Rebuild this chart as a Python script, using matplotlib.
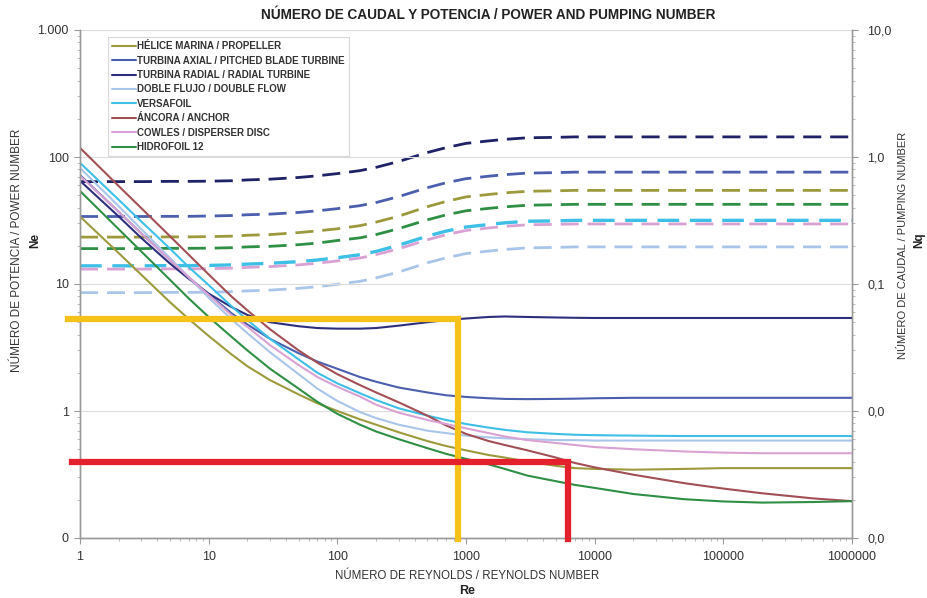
import matplotlib
matplotlib.use("Agg")
import matplotlib.pyplot as plt
from matplotlib.ticker import FixedLocator, FixedFormatter, NullFormatter, LogLocator

# ---------------- data ----------------
re = [1, 2, 3, 5, 7, 10, 15, 20, 30, 50, 70, 100, 150, 200, 300, 500, 700, 1000, 1500, 2000,
      3000, 5000, 7000, 1e4, 2e4, 5e4, 1e5, 2e5, 5e5, 1e6]

# Power number Np (solid lines, left axis)
np_helice = [34, 17.5, 11.8, 7.2, 5.3, 3.9, 2.8, 2.25, 1.75, 1.35, 1.15, 1.0, 0.86, 0.78, 0.68,
             0.58, 0.53, 0.49, 0.45, 0.43, 0.40, 0.37, 0.355, 0.35, 0.345, 0.35, 0.355, 0.355, 0.355, 0.355]
np_axial = [72, 37, 25, 15.5, 11.3, 8.3, 5.9, 4.8, 3.7, 2.85, 2.45, 2.15, 1.85, 1.7, 1.53,
            1.4, 1.33, 1.29, 1.26, 1.245, 1.24, 1.245, 1.25, 1.26, 1.27, 1.27, 1.27, 1.27, 1.27, 1.27]
np_radial = [65, 34, 23, 14.5, 11, 8.4, 6.6, 5.7, 5.0, 4.65, 4.5, 4.45, 4.45, 4.5, 4.7,
             5.0, 5.2, 5.35, 5.5, 5.55, 5.5, 5.45, 5.42, 5.4, 5.4, 5.4, 5.4, 5.4, 5.4, 5.4]
np_doble = [82, 41, 27, 16, 11.3, 7.8, 5.3, 4.1, 2.9, 1.95, 1.5, 1.2, 0.98, 0.88, 0.78,
            0.7, 0.67, 0.64, 0.62, 0.61, 0.6, 0.59, 0.59, 0.585, 0.585, 0.585, 0.585, 0.585, 0.585, 0.585]
np_versa = [90, 46, 31, 19, 13.6, 9.8, 6.7, 5.2, 3.7, 2.55, 2.0, 1.65, 1.38, 1.22, 1.05,
            0.92, 0.85, 0.79, 0.74, 0.71, 0.68, 0.66, 0.65, 0.645, 0.64, 0.635, 0.635, 0.635, 0.635, 0.635]
np_ancora = [118, 59, 39.5, 23.8, 17, 11.9, 8.0, 6.2, 4.4, 3.0, 2.4, 1.95, 1.6, 1.4, 1.17,
             0.92, 0.77, 0.66, 0.58, 0.54, 0.49, 0.43, 0.39, 0.36, 0.315, 0.27, 0.245, 0.225, 0.205, 0.195]
np_cowles = [71, 37, 25, 15.5, 11.3, 8.2, 5.7, 4.6, 3.3, 2.3, 1.85, 1.55, 1.3, 1.12, 0.97,
             0.85, 0.79, 0.73, 0.67, 0.63, 0.59, 0.56, 0.54, 0.52, 0.5, 0.48, 0.47, 0.465, 0.465, 0.465]
np_hidro = [54, 27, 18, 10.8, 7.7, 5.5, 3.85, 3.0, 2.15, 1.5, 1.18, 0.95, 0.78, 0.69, 0.6,
            0.51, 0.46, 0.42, 0.38, 0.35, 0.31, 0.28, 0.262, 0.248, 0.222, 0.202, 0.194, 0.19, 0.192, 0.195]

# Pumping number Nq (dashed lines, right axis)
nq_radial = [0.64, 0.64, 0.64, 0.643, 0.643, 0.645, 0.650, 0.660, 0.669, 0.690, 0.711, 0.740, 0.781, 0.829, 0.922,
             1.084, 1.185, 1.28, 1.339, 1.377, 1.417, 1.428, 1.44, 1.44, 1.44, 1.44, 1.44, 1.44, 1.44, 1.44]
nq_axial = [0.34, 0.34, 0.34, 0.341, 0.341, 0.343, 0.346, 0.351, 0.355, 0.366, 0.377, 0.392, 0.414, 0.438, 0.488,
            0.573, 0.627, 0.675, 0.706, 0.726, 0.747, 0.753, 0.76, 0.76, 0.76, 0.76, 0.76, 0.76, 0.76, 0.76]
nq_helice = [0.234, 0.234, 0.234, 0.235, 0.235, 0.236, 0.238, 0.242, 0.245, 0.254, 0.262, 0.272, 0.288, 0.307, 0.342,
             0.406, 0.447, 0.485, 0.507, 0.522, 0.537, 0.542, 0.546, 0.546, 0.546, 0.546, 0.546, 0.546, 0.546, 0.546]
nq_hidro = [0.19, 0.19, 0.19, 0.191, 0.191, 0.1915, 0.193, 0.196, 0.198, 0.204, 0.21, 0.22, 0.231, 0.245, 0.273,
            0.32, 0.35, 0.377, 0.394, 0.405, 0.417, 0.421, 0.424, 0.424, 0.424, 0.424, 0.424, 0.424, 0.424, 0.424]
nq_versa = [0.139, 0.139, 0.139, 0.1396, 0.1396, 0.14, 0.1414, 0.1435, 0.1455, 0.150, 0.1545, 0.161, 0.170, 0.1805, 0.202,
            0.238, 0.261, 0.281, 0.294, 0.303, 0.312, 0.314, 0.317, 0.317, 0.317, 0.317, 0.317, 0.317, 0.317, 0.317]
nq_cowles = [0.131, 0.131, 0.131, 0.1315, 0.1315, 0.1321, 0.1332, 0.1352, 0.1371, 0.1414, 0.1458, 0.1518, 0.1602, 0.1703, 0.1893,
             0.2229, 0.2443, 0.264, 0.2762, 0.2842, 0.2925, 0.2949, 0.297, 0.297, 0.297, 0.297, 0.297, 0.297, 0.297, 0.297]
nq_doble = [0.0855, 0.0855, 0.0855, 0.0859, 0.0859, 0.0862, 0.0869, 0.0883, 0.0895, 0.0924, 0.0953, 0.0994, 0.105, 0.1116, 0.1242,
            0.1468, 0.1607, 0.1736, 0.1817, 0.187, 0.1925, 0.1941, 0.196, 0.196, 0.196, 0.196, 0.196, 0.196, 0.196, 0.196]

labels = ["HÉLICE MARINA / PROPELLER",
          "TURBINA AXIAL / PITCHED BLADE TURBINE",
          "TURBINA RADIAL / RADIAL TURBINE",
          "DOBLE FLUJO / DOUBLE FLOW",
          "VERSAFOIL",
          "ÁNCORA / ANCHOR",
          "COWLES / DISPERSER DISC",
          "HIDROFOIL 12"]

# guide lines (operating points)
guide_re = [865, 6200]
guide_np = [5.3, 0.40]

x_ticks = [1, 10, 100, 1000, 10000, 100000, 1000000]
x_labels = ["1", "10", "100", "1000", "10000", "100000", "1000000"]
yl_ticks = [0.1, 1, 10, 100, 1000]
yl_labels = ["0", "1", "10", "100", "1.000"]
yr_ticks = [0.001, 0.01, 0.1, 1, 10]
yr_labels = ["0,0", "0,0", "0,1", "1,0", "10,0"]

# ---------------- style ----------------
c_helice = "#9c9a3c"
c_axial = "#4b5fae"
c_radial = "#2e2f7c"
c_doble = "#a9c6ea"
c_versa = "#3dbfe6"
c_ancora = "#a24f55"
c_cowles = "#d9a2d3"
c_hidro = "#2f8f45"
c_radial_d = "#1f2266"

narrow = ["Liberation Sans Narrow", "Liberation Sans", "DejaVu Sans"]
sans = ["Liberation Sans", "DejaVu Sans"]
plt.rcParams["font.family"] = sans

fig = plt.figure(figsize=(9.28, 5.98), dpi=100)
ax1 = fig.add_axes([80 / 928, 1 - 538 / 598, (852 - 80) / 928, (538 - 30) / 598])
ax2 = ax1.twinx()
ax1.set_zorder(ax2.get_zorder() + 1)
ax1.patch.set_visible(False)

for a in (ax1, ax2):
    a.set_xscale("log")
    a.set_yscale("log")
    a.set_xlim(1, 1e6)
ax1.set_ylim(0.1, 1000)
ax2.set_ylim(0.001, 10)

# dashed pumping numbers
dash = (0, (6.5, 3.2))
dlw = 2.0
ax2.plot(re, nq_radial, color=c_radial_d, lw=dlw, ls=dash)
ax2.plot(re, nq_axial, color=c_axial, lw=dlw, ls=dash)
ax2.plot(re, nq_helice, color=c_helice, lw=dlw, ls=dash)
ax2.plot(re, nq_hidro, color=c_hidro, lw=dlw, ls=dash)
ax2.plot(re, nq_versa, color=c_versa, lw=dlw + 0.4, ls=dash)
ax2.plot(re, nq_cowles, color=c_cowles, lw=dlw, ls=dash)
ax2.plot(re, nq_doble, color=c_doble, lw=dlw, ls=dash)

# solid power numbers
slw = 1.5
series = [np_helice, np_axial, np_radial, np_doble, np_versa, np_ancora, np_cowles, np_hidro]
cols = [c_helice, c_axial, c_radial, c_doble, c_versa, c_ancora, c_cowles, c_hidro]
for s, c, lab in zip(series, cols, labels):
    ax1.plot(re, s, color=c, lw=slw, label=lab, solid_capstyle="round", solid_joinstyle="round")

# guide lines
ax1.plot([0.81, guide_re[0], guide_re[0]], [guide_np[0], guide_np[0], 0.098],
         color="#f6c21a", lw=4.5, clip_on=False, zorder=10, solid_joinstyle="miter")
ax1.plot([0.86, guide_re[1], guide_re[1]], [guide_np[1], guide_np[1], 0.098],
         color="#e3202b", lw=4.5, clip_on=False, zorder=10, solid_joinstyle="miter")

# grid & spines
ax1.yaxis.grid(True, which="major", color="#dcdcdc", lw=0.8)
ax1.set_axisbelow(True)
for a in (ax1, ax2):
    for sp in a.spines.values():
        sp.set_color("#9a9a9a")
        sp.set_linewidth(1.0)
    a.spines["top"].set_visible(False)

tick_col = "#333333"
ax1.xaxis.set_major_locator(FixedLocator(x_ticks))
ax1.xaxis.set_major_formatter(FixedFormatter(x_labels))
ax1.xaxis.set_minor_locator(LogLocator(base=10, subs=range(2, 10), numticks=20))
ax1.xaxis.set_minor_formatter(NullFormatter())
ax1.yaxis.set_major_locator(FixedLocator(yl_ticks))
ax1.yaxis.set_major_formatter(FixedFormatter(yl_labels))
ax1.yaxis.set_minor_locator(LogLocator(base=10, subs=range(2, 10), numticks=20))
ax1.yaxis.set_minor_formatter(NullFormatter())
ax2.yaxis.set_major_locator(FixedLocator(yr_ticks))
ax2.yaxis.set_major_formatter(FixedFormatter(yr_labels))
ax2.yaxis.set_minor_locator(LogLocator(base=10, subs=range(2, 10), numticks=20))
ax2.yaxis.set_minor_formatter(NullFormatter())
ax2.xaxis.set_visible(False)

ax1.tick_params(axis="both", which="major", labelsize=9, colors="#9a9a9a",
                labelcolor=tick_col, length=4, width=0.8, direction="out")
ax1.tick_params(axis="both", which="minor", length=2.5, width=0.6, colors="#b0b0b0", direction="out")
ax1.tick_params(axis="x", which="major", pad=5)
ax1.tick_params(axis="y", which="major", pad=4)
ax2.tick_params(axis="y", which="major", labelsize=9, colors="#9a9a9a",
                labelcolor=tick_col, length=4, width=0.8, direction="out", pad=7)
ax2.tick_params(axis="y", which="minor", length=2.5, width=0.6, colors="#b0b0b0", direction="out")
for lab in ax1.get_xticklabels() + ax1.get_yticklabels() + ax2.get_yticklabels():
    lab.set_family(narrow)

# texts
fig.text(488 / 928, 1 - 15 / 598, "NÚMERO DE CAUDAL Y POTENCIA / POWER AND PUMPING NUMBER",
         ha="center", va="center", fontsize=9.8, fontweight="bold", color="#222222", family=sans)
fig.text(467 / 928, 1 - 576 / 598, "NÚMERO DE REYNOLDS / REYNOLDS NUMBER",
         ha="center", va="center", fontsize=8.3, color="#333333", family=narrow)
fig.text(467 / 928, 1 - 591 / 598, "Re", ha="center", va="center", fontsize=9,
         fontweight="bold", color="#222222", family=sans)
fig.text(17 / 928, 1 - 250 / 598, "NÚMERO DE POTENCIA / POWER NUMBER", rotation=90,
         ha="center", va="center", fontsize=8.5, color="#333333", family=narrow)
fig.text(35 / 928, 1 - 240 / 598, "Ne", rotation=90, ha="center", va="center",
         fontsize=8.5, fontweight="bold", color="#222222", family=sans)
fig.text(903 / 928, 1 - 245 / 598, "NÚMERO DE CAUDAL / PUMPING NUMBER", rotation=90,
         ha="center", va="center", fontsize=8, color="#333333", family=narrow)
fig.text(919 / 928, 1 - 240 / 598, "Nq", rotation=90, ha="center", va="center",
         fontsize=8.5, fontweight="bold", color="#222222", family=sans)

leg = ax1.legend(loc="upper left", bbox_to_anchor=((108 - 80) / 772, 1 - (37 - 30) / 508),
                 borderaxespad=0, frameon=True, fancybox=False, edgecolor="#d0d0d0",
                 prop={"family": sans, "weight": "bold", "size": 7.0},
                 handlelength=2.4, handletextpad=0.15, labelspacing=0.45, borderpad=0.45)
leg.get_frame().set_linewidth(0.8)
for t in leg.get_texts():
    t.set_color("#333333")

fig.savefig("out.png", dpi=100)
